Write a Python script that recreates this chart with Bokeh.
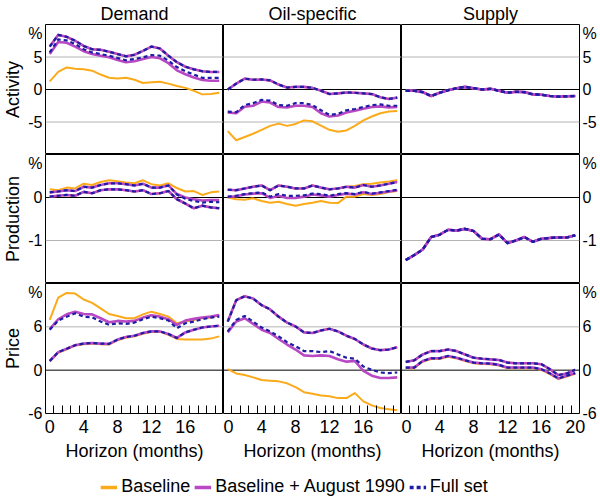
from bokeh.plotting import figure
from bokeh.layouts import gridplot, column
from bokeh.models import (FixedTicker, CustomJSTickFormatter, Span, Legend,
                          LegendItem, Range1d)
from bokeh.embed import file_html
from bokeh.resources import INLINE

# ---------------- data ----------------
horizon = list(range(21))
col_titles = ["Demand", "Oil-specific", "Supply"]
row_titles = ["Activity", "Production", "Price"]
series_names = ["Baseline", "Baseline + August 1990", "Full set"]

# Activity
dem_act_top = [6.6, 8.4, 8.1, 7.5, 6.7, 6.2, 6.1, 5.8, 5.45, 5.1, 5.35, 5.95, 6.6, 6.3, 5.2, 4.2, 3.5, 3.1, 2.8, 2.7, 2.7]
dem_act_full_lo = [5.7, 7.7, 7.55, 7.0, 6.2, 5.7, 5.45, 5.2, 4.85, 4.5, 4.7, 4.95, 5.3, 5.2, 4.45, 3.45, 2.8, 2.3, 1.8, 1.8, 1.8]
dem_act_aug_lo = [5.45, 7.3, 7.2, 6.6, 5.9, 5.45, 5.2, 4.95, 4.55, 4.2, 4.35, 4.7, 5.0, 4.8, 4.05, 2.95, 2.35, 1.85, 1.45, 1.35, 1.35]
dem_act_base_lo = [1.26, 2.7, 3.4, 3.2, 3.1, 2.9, 2.3, 1.8, 1.7, 1.8, 1.5, 1.0, 1.1, 1.2, 0.9, 0.55, 0.25, -0.2, -0.75, -0.7, -0.5]

oil_act_top = [0.0, 0.9, 1.67, 1.5, 1.55, 1.4, 0.76, 0.3, 0.4, 0.4, 0.25, -0.2, -0.7, -0.6, -0.45, -0.5, -0.6, -0.7, -1.2, -1.45, -1.25]
oil_act_full_lo = [-3.4, -3.5, -2.4, -2.1, -1.6, -1.7, -2.4, -2.5, -2.1, -2.1, -2.4, -3.2, -3.9, -3.75, -3.2, -3.0, -2.7, -2.4, -2.3, -2.5, -2.5]
oil_act_aug_lo = [-3.55, -3.65, -2.65, -2.5, -1.85, -2.0, -2.7, -2.75, -2.5, -2.5, -2.7, -3.65, -4.15, -4.0, -3.55, -3.25, -2.95, -2.7, -2.6, -2.75, -2.7]
oil_act_base_lo = [-6.4, -7.8, -7.3, -6.8, -6.2, -5.6, -5.25, -5.6, -5.3, -4.75, -4.9, -5.55, -6.2, -6.5, -6.3, -5.6, -4.75, -4.15, -3.65, -3.4, -3.3]

sup_act = [-0.2, -0.2, -0.4, -1.0, -0.5, -0.1, 0.2, 0.4, 0.2, 0.0, 0.1, -0.2, -0.5, -0.35, -0.4, -0.75, -0.8, -1.0, -1.1, -1.05, -1.0]

# Production
dem_prod_base_hi = [0.19, 0.17, 0.23, 0.21, 0.32, 0.29, 0.36, 0.40, 0.38, 0.35, 0.33, 0.40, 0.31, 0.28, 0.33, 0.22, 0.14, 0.15, 0.06, 0.12, 0.14]
dem_prod_aug_hi = [0.12, 0.14, 0.17, 0.15, 0.25, 0.23, 0.29, 0.33, 0.33, 0.31, 0.28, 0.32, 0.23, 0.23, 0.28, 0.08, 0.0, -0.04, -0.07, -0.06, -0.06]
dem_prod_full_hi = [0.12, 0.14, 0.17, 0.15, 0.25, 0.23, 0.29, 0.33, 0.33, 0.31, 0.28, 0.32, 0.23, 0.23, 0.28, 0.07, -0.03, -0.08, -0.12, -0.10, -0.11]
dem_prod_lo = [0.02, 0.04, 0.06, 0.04, 0.13, 0.10, 0.17, 0.19, 0.19, 0.17, 0.14, 0.17, 0.08, 0.10, 0.15, -0.04, -0.14, -0.25, -0.19, -0.23, -0.25]

oil_prod_top = [0.18, 0.17, 0.21, 0.25, 0.28, 0.17, 0.28, 0.25, 0.21, 0.21, 0.28, 0.23, 0.19, 0.21, 0.25, 0.23, 0.29, 0.25, 0.28, 0.32, 0.36]
oil_prod_base_hi = [0.18, 0.17, 0.21, 0.25, 0.28, 0.17, 0.28, 0.25, 0.21, 0.21, 0.28, 0.23, 0.19, 0.21, 0.25, 0.27, 0.31, 0.32, 0.35, 0.37, 0.40]
oil_prod_full_lo = [0.02, 0.04, 0.08, 0.10, 0.12, 0.02, 0.08, 0.04, 0.04, 0.05, 0.09, 0.08, 0.04, 0.08, 0.10, 0.08, 0.13, 0.09, 0.12, 0.15, 0.18]
oil_prod_aug_lo = [0.01, 0.03, 0.07, 0.09, 0.10, -0.01, 0.04, -0.01, -0.01, 0.02, 0.07, 0.05, 0.02, 0.06, 0.09, 0.07, 0.12, 0.08, 0.11, 0.14, 0.17]
oil_prod_base_lo = [0.0, -0.04, -0.05, -0.02, -0.08, -0.12, -0.10, -0.15, -0.19, -0.15, -0.12, -0.08, -0.12, -0.13, 0.02, 0.02, 0.08, 0.06, 0.08, 0.13, 0.15]

sup_prod = [-1.455, -1.34, -1.21, -0.92, -0.865, -0.75, -0.77, -0.73, -0.78, -0.96, -0.97, -0.86, -1.06, -1.0, -0.92, -1.03, -0.96, -0.94, -0.93, -0.93, -0.88]

# Price
dem_pr_base_hi = [6.96, 10.05, 10.7, 10.6, 9.78, 9.32, 8.55, 7.78, 7.5, 7.19, 7.19, 7.73, 8.1, 7.78, 7.41, 6.5, 6.73, 6.96, 7.19, 7.28, 7.64]
dem_pr_aug_hi = [5.68, 7.05, 7.73, 8.1, 7.78, 7.73, 7.19, 6.64, 6.82, 6.73, 6.82, 7.28, 7.6, 7.41, 7.05, 6.28, 6.87, 7.1, 7.28, 7.41, 7.64]
dem_pr_full_hi = [5.59, 6.87, 7.41, 7.87, 7.41, 7.32, 6.73, 6.28, 6.5, 6.41, 6.59, 7.05, 7.41, 7.19, 6.87, 5.82, 6.5, 6.73, 7.05, 7.28, 7.41]
dem_pr_lo = [1.27, 2.5, 2.96, 3.46, 3.68, 3.77, 3.68, 3.64, 4.23, 4.59, 4.77, 5.14, 5.37, 5.37, 5.0, 4.46, 5.23, 5.59, 5.91, 6.05, 6.14]
dem_pr_base_lo = [1.2, 2.4, 2.9, 3.4, 3.6, 3.7, 3.6, 3.55, 4.15, 4.5, 4.7, 5.05, 5.3, 5.3, 4.9, 4.32, 4.23, 4.23, 4.23, 4.37, 4.68]

oil_pr_top = [6.73, 9.69, 10.23, 9.91, 9.0, 8.41, 7.41, 6.59, 6.05, 5.23, 5.14, 5.5, 5.73, 5.37, 4.77, 4.32, 3.55, 3.0, 2.77, 2.86, 3.18]
oil_pr_full_lo = [5.37, 6.96, 7.5, 6.73, 5.91, 5.37, 4.68, 3.87, 3.32, 2.64, 2.64, 2.5, 2.64, 2.18, 1.73, 1.59, 0.5, 0.05, -0.32, -0.41, -0.32]
oil_pr_aug_lo = [5.23, 6.73, 7.19, 6.41, 5.59, 5.14, 4.32, 3.55, 2.86, 2.05, 1.96, 2.05, 1.96, 1.5, 1.18, 1.27, -0.09, -0.77, -1.09, -1.09, -1.0]
oil_pr_base_lo = [0.14, -0.45, -0.68, -1.0, -1.36, -1.45, -1.55, -1.82, -2.36, -3.05, -3.27, -3.5, -3.6, -3.87, -3.87, -3.18, -4.32, -4.87, -5.23, -5.41, -5.55]

sup_pr_hi = [1.14, 1.36, 2.18, 2.64, 2.64, 2.86, 2.64, 2.18, 1.73, 1.59, 1.5, 1.41, 1.05, 0.95, 0.95, 0.95, 0.82, 0.14, -0.68, -0.45, 0.05]
sup_pr_lo = [0.36, 0.36, 1.27, 1.64, 1.64, 1.96, 1.73, 1.36, 1.05, 0.95, 0.91, 0.73, 0.36, 0.36, 0.36, 0.36, 0.14, -0.45, -1.14, -0.77, -0.41]
sup_pr_base_lo = [0.26, 0.26, 1.17, 1.54, 1.54, 1.86, 1.63, 1.26, 0.95, 0.85, 0.81, 0.63, 0.26, 0.26, 0.26, 0.26, 0.04, -0.55, -1.24, -0.87, -0.51]

# (lo, hi) per series: Baseline, Baseline + August 1990, Full set
panels = {
    (0, 0): [(dem_act_base_lo, dem_act_top), (dem_act_aug_lo, dem_act_top), (dem_act_full_lo, dem_act_top)],
    (0, 1): [(oil_act_base_lo, oil_act_top), (oil_act_aug_lo, oil_act_top), (oil_act_full_lo, oil_act_top)],
    (0, 2): [(sup_act, sup_act), (sup_act, sup_act), (sup_act, sup_act)],
    (1, 0): [(dem_prod_lo, dem_prod_base_hi), (dem_prod_lo, dem_prod_aug_hi), (dem_prod_lo, dem_prod_full_hi)],
    (1, 1): [(oil_prod_base_lo, oil_prod_base_hi), (oil_prod_aug_lo, oil_prod_top), (oil_prod_full_lo, oil_prod_top)],
    (1, 2): [(sup_prod, sup_prod), (sup_prod, sup_prod), (sup_prod, sup_prod)],
    (2, 0): [(dem_pr_base_lo, dem_pr_base_hi), (dem_pr_lo, dem_pr_aug_hi), (dem_pr_lo, dem_pr_full_hi)],
    (2, 1): [(oil_pr_base_lo, oil_pr_top), (oil_pr_aug_lo, oil_pr_top), (oil_pr_full_lo, oil_pr_top)],
    (2, 2): [(sup_pr_base_lo, sup_pr_hi), (sup_pr_lo, sup_pr_hi), (sup_pr_lo, sup_pr_hi)],
}

# y-axis settings per row: range, labelled ticks, grey gridlines
y_ranges = [(-10, 10), (-2, 1), (-6, 12)]
y_label_ticks = [[-5, 0, 5], [-1, 0], [-6, 0, 6]]
y_grid_ticks = [[-5, 5], [-1], [6]]
x_label_ticks = [0, 4, 8, 12, 16]
x_label_ticks_last = [0, 4, 8, 12, 16, 20]

# ---------------- style ----------------
FONT = "Liberation Sans"
COLORS = ["#FBAA1A", "#B848C4", "#1C1CA4"]
WIDTHS = [2, 2.6, 2.2]
DASHES = ["solid", "solid", "4 3"]
FW = 178
FH = [130, 129, 130]
PCT_OFFSET_PX = 9

grid = []
for r in range(3):
    row = []
    lo, hi = y_ranges[r]
    for c in range(3):
        kw = {}
        if r == 0:
            kw["title"] = col_titles[c]
        p = figure(frame_width=FW, frame_height=FH[r],
                   x_range=Range1d(-0.5, 20.5), y_range=Range1d(lo, hi),
                   output_backend="svg", toolbar_location=None,
                   x_axis_location="below" if r == 2 else None,
                   y_axis_location="left" if c == 0 else ("right" if c == 2 else None),
                   min_border=0, **kw)
        p.outline_line_color = "black"
        p.outline_line_width = 1
        p.outline_line_alpha = 1
        p.background_fill_color = "white"
        p.border_fill_color = "white"
        p.xgrid.visible = False
        p.ygrid.visible = False
        if r == 0:
            p.title.text_font = FONT
            p.title.text_font_size = "18px"
            p.title.text_font_style = "normal"
            p.title.align = "center"
            p.title.text_color = "black"
            p.title.standoff = 2
            p.title.offset = 0

        for g in y_grid_ticks[r]:
            p.add_layout(Span(location=g, dimension="width", line_color="#B4B4B4",
                              line_width=1, level="underlay"))
        p.add_layout(Span(location=0, dimension="width", line_color="black",
                          line_width=1, level="underlay"))

        if c in (0, 2):
            pct_pos = hi - PCT_OFFSET_PX * (hi - lo) / FH[r]
            ax = p.yaxis[0]
            ax.ticker = FixedTicker(ticks=y_label_ticks[r] + [pct_pos], minor_ticks=[])
            ax.formatter = CustomJSTickFormatter(
                args=dict(pct=pct_pos),
                code="return Math.abs(tick - pct) < 1e-9 ? '%' : String(tick);")
            ax.axis_line_color = None
            ax.major_tick_line_color = None
            ax.minor_tick_line_color = None
            ax.major_tick_in = 0
            ax.major_tick_out = 0
            ax.minor_tick_in = 0
            ax.minor_tick_out = 0
            ax.major_label_text_font = FONT
            ax.major_label_text_font_size = "16px"
            ax.major_label_text_color = "black"
            ax.major_label_standoff = 3
            if c == 0:
                ax.axis_label = row_titles[r]
                ax.axis_label_text_font = FONT
                ax.axis_label_text_font_size = "18px"
                ax.axis_label_text_font_style = "normal"
                ax.axis_label_text_color = "black"
                ax.axis_label_standoff = 2

        if r == 2:
            ax = p.xaxis[0]
            ax.ticker = FixedTicker(ticks=x_label_ticks_last if c == 2 else x_label_ticks,
                                    minor_ticks=[h + 0.5 for h in horizon[:-1]])
            ax.axis_line_color = None
            ax.major_tick_in = 0
            ax.major_tick_out = 0
            ax.major_tick_line_color = None
            ax.minor_tick_in = 8
            ax.minor_tick_out = 0
            ax.minor_tick_line_color = "black"
            ax.minor_tick_line_width = 1
            ax.major_label_text_font = FONT
            ax.major_label_text_font_size = "18px"
            ax.major_label_text_color = "black"
            ax.major_label_standoff = 6
            ax.axis_label = "Horizon (months)"
            ax.axis_label_text_font = FONT
            ax.axis_label_text_font_size = "18px"
            ax.axis_label_text_font_style = "normal"
            ax.axis_label_text_color = "black"
            ax.axis_label_standoff = 5

        for (s_lo, s_hi), col, w, d in zip(panels[(r, c)], COLORS, WIDTHS, DASHES):
            for arr in (s_lo, s_hi):
                p.line(horizon, arr, line_color=col, line_width=w, line_dash=d,
                       line_join="round")
        row.append(p)
    grid.append(row)

gp = gridplot(grid, toolbar_location=None)

# ---------------- legend ----------------
# legend-only strip: the series are plotted out of view so only the legend shows
lp = figure(frame_width=588, frame_height=34, x_range=Range1d(0, 1), y_range=Range1d(100, 101),
            output_backend="svg", toolbar_location=None, x_axis_location=None,
            y_axis_location=None, min_border=0)
lp.outline_line_color = None
lp.xgrid.visible = False
lp.ygrid.visible = False
items = []
for name, col, d, (s_lo, s_hi) in zip(series_names, COLORS, DASHES, panels[(0, 0)]):
    rr = lp.line(x=horizon, y=s_lo, line_color=col, line_width=3.4, line_dash=d)
    items.append(LegendItem(label=name, renderers=[rr]))
legend = Legend(items=items, orientation="horizontal", location="bottom_center",
                label_text_font=FONT, label_text_font_size="18px", label_text_color="black",
                glyph_width=17, glyph_height=18, label_height=18, label_standoff=4, spacing=4,
                padding=0, margin=0, border_line_color=None, background_fill_alpha=0)
lp.add_layout(legend, "center")

layout = column(gp, lp)
open("out.html", "w").write(file_html(layout, INLINE))
